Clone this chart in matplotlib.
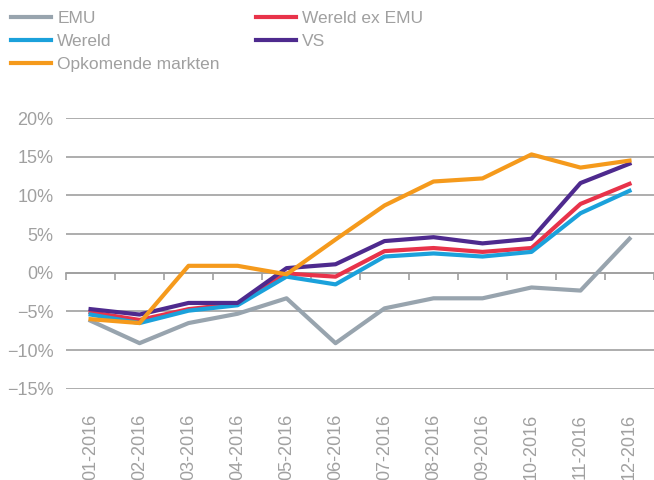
import matplotlib.pyplot as plt
from matplotlib.ticker import FixedLocator, FuncFormatter

plt.rcParams['font.family'] = ['Liberation Sans', 'DejaVu Sans']

# Maandelijkse rendementen 2016 (cumulatief, %)
months = ['01-2016', '02-2016', '03-2016', '04-2016', '05-2016', '06-2016',
          '07-2016', '08-2016', '09-2016', '10-2016', '11-2016', '12-2016']
emu = [-6.2, -9.1, -6.5, -5.3, -3.3, -9.1, -4.6, -3.3, -3.3, -1.9, -2.3, 4.4]
wereld_ex_emu = [-5.1, -6.1, -4.7, -4.0, -0.1, -0.5, 2.8, 3.2, 2.7, 3.2, 8.9, 11.5]
wereld = [-5.4, -6.5, -4.9, -4.2, -0.5, -1.5, 2.1, 2.5, 2.1, 2.7, 7.7, 10.6]
vs = [-4.7, -5.4, -3.9, -3.9, 0.6, 1.1, 4.1, 4.6, 3.8, 4.4, 11.6, 14.1]
opkomend = [-6.0, -6.5, 0.9, 0.9, -0.2, 4.3, 8.7, 11.8, 12.2, 15.3, 13.6, 14.5]

text_grey = '#a0a0a0'
grid_grey = '#a0a0a0'

fig = plt.figure(figsize=(6.54, 4.8), dpi=100)
ax = fig.add_axes([0.101, 0.19, 0.899, 0.564])

x = list(range(len(months)))
l_emu, = ax.plot(x, emu, color='#98a4ae', lw=3, label='EMU', zorder=3)
l_red, = ax.plot(x, wereld_ex_emu, color='#e8334a', lw=3, label='Wereld ex EMU', zorder=4)
l_blue, = ax.plot(x, wereld, color='#1ba1db', lw=3, label='Wereld', zorder=5)
l_vs, = ax.plot(x, vs, color='#4e2a8e', lw=3, label='VS', zorder=6)
l_opk, = ax.plot(x, opkomend, color='#f59a1c', lw=3, label='Opkomende markten', zorder=7)

ax.set_xlim(-0.5, len(months) - 0.5)
ax.set_ylim(-15, 20)
ax.set_yticks(range(-15, 25, 5))
ax.yaxis.set_major_formatter(FuncFormatter(lambda v, p: f'{int(v)}%'.replace('-', '\u2212')))
ax.grid(axis='y', color=grid_grey, lw=1.2)
ax.set_axisbelow(True)

for s in ['left', 'right', 'bottom']:
    ax.spines[s].set_visible(False)
ax.spines['top'].set_position(('data', 0))
ax.spines['top'].set_color(grid_grey)
ax.spines['top'].set_linewidth(1.2)
ax.spines['top'].set_zorder(1)

ax.set_xticks(x)
ax.set_xticklabels(months, rotation=90)
ax.xaxis.set_minor_locator(FixedLocator([i - 0.5 for i in range(len(months) + 1)]))
ax.tick_params(axis='x', which='major', length=0, pad=18, labelsize=13, labelcolor=text_grey,
               top=False, bottom=True)
ax.tick_params(axis='x', which='minor', length=5, width=1.2, color=grid_grey, direction='in',
               top=True, bottom=False)
ax.tick_params(axis='y', length=0, labelsize=13, labelcolor=text_grey, pad=9)

fig.legend(handles=[l_emu, l_blue, l_opk, l_red, l_vs], ncol=2, loc='upper left',
           bbox_to_anchor=(0.0, 1.0), frameon=False, fontsize=12.5, labelcolor=text_grey,
           handlelength=2.3, handletextpad=0.35, columnspacing=2.1, labelspacing=0.45,
           borderaxespad=0.25)

fig.savefig('out.png', dpi=100)
